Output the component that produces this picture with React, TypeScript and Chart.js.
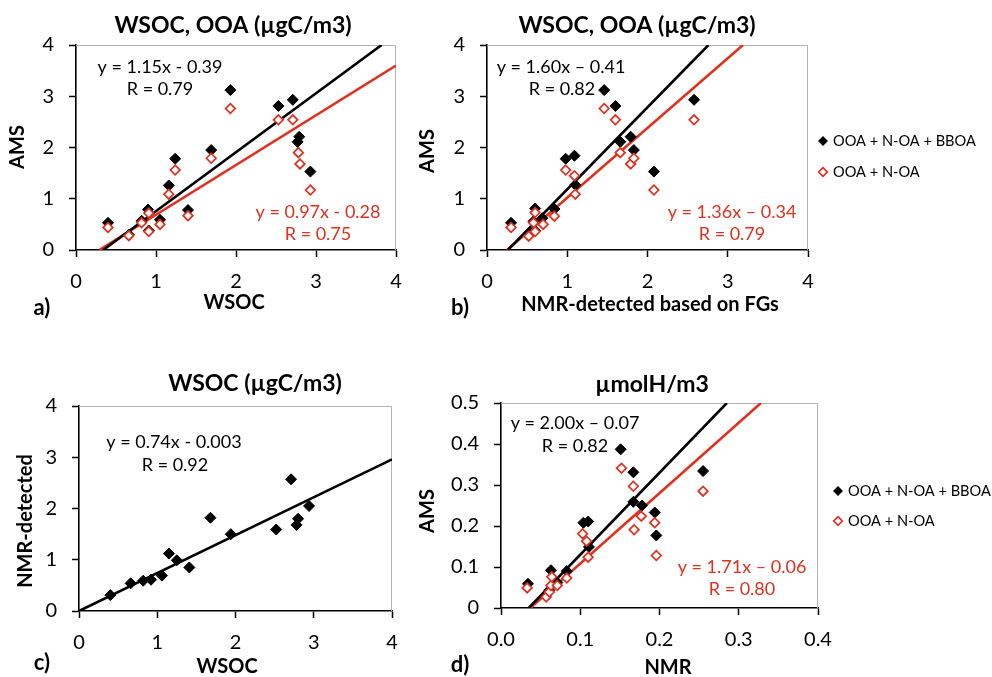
import React, { useEffect, useRef } from 'react';
import { Chart, registerables } from 'chart.js';

Chart.register(...registerables);

const PAGE_W = 992;
const PAGE_H = 677;
const FONT = "Lato, 'Open Sans', sans-serif";
const RED = '#e2301f';
const BLACK = '#000000';

// ---------- Tick labels ----------
const unitTicks = ['0', '1', '2', '3', '4'];
const dXTicks = ['0.0', '0.1', '0.2', '0.3', '0.4'];
const dYTicks = ['0', '0.1', '0.2', '0.3', '0.4', '0.5'];

// ---------- Panel a: WSOC (x) vs AMS (y) ----------
const aBlackX = [0.40, 0.66, 0.82, 0.90, 0.91, 1.05, 1.16, 1.24, 1.40, 1.69, 1.93, 2.53, 2.71, 2.77, 2.79, 2.93];
const aBlackY = [0.53, 0.30, 0.57, 0.79, 0.38, 0.59, 1.26, 1.78, 0.78, 1.95, 3.12, 2.81, 2.93, 2.11, 2.21, 1.53];
const aRedX = [0.40, 0.66, 0.82, 0.91, 0.91, 1.05, 1.16, 1.24, 1.40, 1.69, 1.93, 2.53, 2.71, 2.78, 2.80, 2.93];
const aRedY = [0.44, 0.28, 0.53, 0.72, 0.36, 0.50, 1.09, 1.56, 0.67, 1.79, 2.76, 2.54, 2.54, 1.90, 1.68, 1.17];
const aBlackFitX = [0.34, 3.82];
const aBlackFitY = [0, 4];
const aRedFitX = [0.29, 4.0];
const aRedFitY = [0, 3.60];

// ---------- Panel b: NMR-detected based on FGs (x) vs AMS (y) ----------
const bBlackX = [0.30, 0.52, 0.58, 0.60, 0.60, 0.69, 0.84, 0.98, 1.09, 1.10, 1.46, 1.60, 1.66, 1.79, 1.83, 2.08, 2.58];
const bBlackY = [0.53, 0.30, 0.56, 0.81, 0.38, 0.62, 0.80, 1.78, 1.84, 1.27, 3.12, 2.81, 2.11, 2.21, 1.95, 1.53, 2.93];
const bRedX = [0.30, 0.52, 0.58, 0.60, 0.60, 0.70, 0.84, 0.98, 1.09, 1.10, 1.46, 1.60, 1.66, 1.79, 1.83, 2.08, 2.58];
const bRedY = [0.44, 0.27, 0.53, 0.73, 0.36, 0.50, 0.66, 1.56, 1.45, 1.09, 2.76, 2.54, 1.90, 1.68, 1.79, 1.17, 2.54];
const bBlackFitX = [0.26, 2.76];
const bBlackFitY = [0, 4];
const bRedFitX = [0.25, 3.19];
const bRedFitY = [0, 4];

// ---------- Panel c: WSOC (x) vs NMR-detected (y) ----------
const cX = [0.40, 0.66, 0.82, 0.92, 1.06, 1.15, 1.25, 1.41, 1.68, 1.94, 2.52, 2.71, 2.78, 2.80, 2.94];
const cY = [0.31, 0.54, 0.59, 0.61, 0.69, 1.12, 0.99, 0.85, 1.82, 1.50, 1.59, 2.57, 1.68, 1.80, 2.05];
const cFitX = [0, 4];
const cFitY = [0, 2.96];

// ---------- Panel d: NMR (x) vs AMS (y), µmolH/m3 ----------
const dBlackX = [0.034, 0.057, 0.061, 0.063, 0.071, 0.083, 0.104, 0.110, 0.111, 0.151, 0.167, 0.167, 0.178, 0.194, 0.196, 0.255];
const dBlackY = [0.059, 0.031, 0.043, 0.092, 0.062, 0.090, 0.208, 0.211, 0.149, 0.387, 0.331, 0.259, 0.250, 0.233, 0.177, 0.334];
const dRedX = [0.033, 0.057, 0.061, 0.063, 0.064, 0.071, 0.083, 0.103, 0.108, 0.110, 0.152, 0.167, 0.168, 0.177, 0.194, 0.196, 0.255];
const dRedY = [0.049, 0.027, 0.039, 0.055, 0.076, 0.055, 0.073, 0.181, 0.163, 0.124, 0.341, 0.297, 0.191, 0.224, 0.208, 0.128, 0.285];
const dBlackFitX = [0.035, 0.285];
const dBlackFitY = [0, 0.5];
const dRedFitX = [0.037, 0.328];
const dRedFitY = [0, 0.5];

const seriesBlack = 'OOA + N-OA + BBOA';
const seriesRed = 'OOA + N-OA';

// ---------- helpers ----------
type TextItem = { text: string; x: number; y: number; size: number; bold?: boolean; color?: string; rotate?: boolean; align?: CanvasTextAlign };
type LegendItem = { text: string; x: number; y: number; color: string; filled: boolean };
type Spec = {
  area: { l: number; t: number; r: number; b: number };
  x: { min: number; max: number; step: number; labels: string[] };
  y: { min: number; max: number; step: number; labels: string[] };
  datasets: any[];
  texts: TextItem[];
  legend: LegendItem[];
};

const Y_BOX = 74;
const X_BOX = 60;

const pts = (xs: number[], ys: number[]) => xs.map((x, i) => ({ x, y: ys[i] }));

const blackPoints = (xs: number[], ys: number[], label: string) => ({
  label,
  data: pts(xs, ys),
  pointStyle: 'rectRot',
  pointRadius: 5.5,
  backgroundColor: BLACK,
  borderColor: BLACK,
  borderWidth: 1,
  showLine: false,
  order: 2,
});
const redPoints = (xs: number[], ys: number[], label: string) => ({
  label,
  data: pts(xs, ys),
  pointStyle: 'rectRot',
  pointRadius: 4.8,
  backgroundColor: '#ffffff',
  borderColor: RED,
  borderWidth: 1.7,
  showLine: false,
  order: 1,
});
const fitLine = (xs: number[], ys: number[], color: string, label: string) => ({
  label,
  data: pts(xs, ys),
  showLine: true,
  pointRadius: 0,
  borderColor: color,
  borderWidth: 2.6,
  fill: false,
  order: 5,
});

function scaleOpts(axis: 'x' | 'y', s: { min: number; max: number; step: number; labels: string[] }) {
  return {
    type: 'linear',
    min: s.min,
    max: s.max,
    ticks: {
      stepSize: s.step,
      autoSkip: false,
      maxRotation: 0,
      padding: axis === 'x' ? 13 : 15,
      color: '#000',
      font: { family: FONT, size: 20 },
      callback: (_v: any, i: number) => s.labels[i],
    },
    grid: {
      display: true,
      drawOnChartArea: false,
      drawTicks: true,
      tickLength: 7,
      tickColor: '#000',
      tickWidth: 1.5,
    },
    border: { display: true, color: '#000', width: 1.6 },
    afterFit: (sc: any) => {
      if (axis === 'x') sc.height = X_BOX;
      else sc.width = Y_BOX;
    },
  };
}

function diamond(ctx: CanvasRenderingContext2D, x: number, y: number, r: number) {
  ctx.beginPath();
  ctx.moveTo(x, y - r);
  ctx.lineTo(x + r, y);
  ctx.lineTo(x, y + r);
  ctx.lineTo(x - r, y);
  ctx.closePath();
}

function buildConfig(spec: Spec): any {
  const overlay = {
    id: 'panelOverlay',
    beforeDatasetsDraw(chart: any) {
      const { ctx, chartArea: a } = chart;
      ctx.save();
      ctx.strokeStyle = '#b3b3b3';
      ctx.lineWidth = 1;
      ctx.beginPath();
      ctx.moveTo(a.left, a.top + 0.5);
      ctx.lineTo(a.right - 0.5, a.top + 0.5);
      ctx.lineTo(a.right - 0.5, a.bottom);
      ctx.stroke();
      ctx.restore();
    },
    afterDraw(chart: any) {
      const ctx: CanvasRenderingContext2D = chart.ctx;
      ctx.save();
      for (const t of spec.texts) {
        ctx.font = `${t.bold ? 'bold ' : ''}${t.size}px ${FONT}`;
        ctx.fillStyle = t.color || BLACK;
        ctx.textAlign = t.align || 'center';
        ctx.textBaseline = 'middle';
        if (t.rotate) {
          ctx.save();
          ctx.translate(t.x, t.y);
          ctx.rotate(-Math.PI / 2);
          ctx.fillText(t.text, 0, 0);
          ctx.restore();
        } else {
          ctx.fillText(t.text, t.x, t.y);
        }
      }
      for (const l of spec.legend) {
        diamond(ctx, l.x, l.y, l.filled ? 5 : 4.3);
        if (l.filled) {
          ctx.fillStyle = l.color;
          ctx.fill();
        } else {
          ctx.fillStyle = '#fff';
          ctx.fill();
          ctx.strokeStyle = l.color;
          ctx.lineWidth = 1.7;
          ctx.stroke();
        }
        ctx.font = `14.6px ${FONT}`;
        ctx.fillStyle = BLACK;
        ctx.textAlign = 'left';
        ctx.textBaseline = 'middle';
        ctx.fillText(l.text, l.x + 10, l.y);
      }
      ctx.restore();
    },
  };

  const { l, t, r, b } = spec.area;
  return {
    type: 'scatter',
    data: { datasets: spec.datasets },
    options: {
      responsive: false,
      animation: false,
      events: [],
      devicePixelRatio: 1,
      layout: {
        padding: {
          left: l - Y_BOX,
          top: t,
          right: PAGE_W - r,
          bottom: PAGE_H - b - X_BOX,
        },
      },
      scales: {
        x: scaleOpts('x', spec.x),
        y: scaleOpts('y', spec.y),
      },
      plugins: {
        legend: { display: false },
        tooltip: { enabled: false },
        title: { display: false },
      },
    },
    plugins: [overlay],
  };
}

const unitAxis = { min: 0, max: 4, step: 1, labels: unitTicks };

const specs: Spec[] = [
  {
    area: { l: 76, t: 45, r: 396, b: 250 },
    x: unitAxis,
    y: unitAxis,
    datasets: [
      redPoints(aRedX, aRedY, seriesRed),
      blackPoints(aBlackX, aBlackY, seriesBlack),
      fitLine(aBlackFitX, aBlackFitY, BLACK, 'fit black'),
      fitLine(aRedFitX, aRedFitY, RED, 'fit red'),
    ],
    texts: [
      { text: 'WSOC, OOA (µgC/m3)', x: 233, y: 26, size: 23, bold: true },
      { text: 'WSOC', x: 234, y: 303, size: 20, bold: true },
      { text: 'AMS', x: 18, y: 147, size: 20, bold: true, rotate: true },
      { text: 'a)', x: 42, y: 308, size: 22, bold: true },
      { text: 'y = 1.15x - 0.39', x: 160, y: 67, size: 18 },
      { text: 'R = 0.79', x: 160, y: 89, size: 18 },
      { text: 'y = 0.97x - 0.28', x: 318, y: 212, size: 18, color: RED },
      { text: 'R = 0.75', x: 318, y: 234, size: 18, color: RED },
    ],
    legend: [],
  },
  {
    area: { l: 487, t: 45, r: 808, b: 250 },
    x: unitAxis,
    y: unitAxis,
    datasets: [
      redPoints(bRedX, bRedY, seriesRed),
      blackPoints(bBlackX, bBlackY, seriesBlack),
      fitLine(bBlackFitX, bBlackFitY, BLACK, 'fit black'),
      fitLine(bRedFitX, bRedFitY, RED, 'fit red'),
    ],
    texts: [
      { text: 'WSOC, OOA (µgC/m3)', x: 637, y: 26, size: 23, bold: true },
      { text: 'NMR-detected based on FGs', x: 650, y: 305, size: 20, bold: true },
      { text: 'AMS', x: 428, y: 151, size: 20, bold: true, rotate: true },
      { text: 'b)', x: 460, y: 308, size: 22, bold: true },
      { text: 'y = 1.60x – 0.41', x: 561, y: 67, size: 18 },
      { text: 'R = 0.82', x: 562, y: 89, size: 18 },
      { text: 'y = 1.36x – 0.34', x: 732, y: 212, size: 18, color: RED },
      { text: 'R = 0.79', x: 732, y: 234, size: 18, color: RED },
    ],
    legend: [
      { text: seriesBlack, x: 823, y: 141, color: BLACK, filled: true },
      { text: seriesRed, x: 823, y: 172, color: RED, filled: false },
    ],
  },
  {
    area: { l: 79, t: 406, r: 392, b: 611 },
    x: unitAxis,
    y: unitAxis,
    datasets: [
      blackPoints(cX, cY, 'NMR-detected'),
      fitLine(cFitX, cFitY, BLACK, 'fit'),
    ],
    texts: [
      { text: 'WSOC (µgC/m3)', x: 255, y: 384, size: 23, bold: true },
      { text: 'WSOC', x: 227, y: 667, size: 20, bold: true },
      { text: 'NMR-detected', x: 26, y: 521, size: 20, bold: true, rotate: true },
      { text: 'c)', x: 42, y: 663, size: 22, bold: true },
      { text: 'y = 0.74x - 0.003', x: 174, y: 442, size: 18 },
      { text: 'R = 0.92', x: 175, y: 465, size: 18 },
    ],
    legend: [],
  },
  {
    area: { l: 501, t: 403, r: 818, b: 608 },
    x: { min: 0, max: 0.4, step: 0.1, labels: dXTicks },
    y: { min: 0, max: 0.5, step: 0.1, labels: dYTicks },
    datasets: [
      redPoints(dRedX, dRedY, seriesRed),
      blackPoints(dBlackX, dBlackY, seriesBlack),
      fitLine(dBlackFitX, dBlackFitY, BLACK, 'fit black'),
      fitLine(dRedFitX, dRedFitY, RED, 'fit red'),
    ],
    texts: [
      { text: 'µmolH/m3', x: 652, y: 385, size: 23, bold: true },
      { text: 'NMR', x: 668, y: 668, size: 20, bold: true },
      { text: 'AMS', x: 428, y: 511, size: 20, bold: true, rotate: true },
      { text: 'd)', x: 460, y: 665, size: 22, bold: true },
      { text: 'y = 2.00x – 0.07', x: 575, y: 423, size: 18 },
      { text: 'R = 0.82', x: 575, y: 446, size: 18 },
      { text: 'y = 1.71x – 0.06', x: 742, y: 567, size: 18, color: RED },
      { text: 'R = 0.80', x: 742, y: 589, size: 18, color: RED },
    ],
    legend: [
      { text: seriesBlack, x: 838, y: 491, color: BLACK, filled: true },
      { text: seriesRed, x: 838, y: 521, color: RED, filled: false },
    ],
  },
];

function Panel({ spec }: { spec: Spec }) {
  const ref = useRef<HTMLCanvasElement | null>(null);
  useEffect(() => {
    if (!ref.current) return;
    const chart = new Chart(ref.current, buildConfig(spec));
    return () => chart.destroy();
  }, [spec]);
  return (
    <canvas
      ref={ref}
      width={PAGE_W}
      height={PAGE_H}
      style={{ position: 'absolute', left: 0, top: 0, width: PAGE_W, height: PAGE_H }}
    />
  );
}

export default function App() {
  return (
    <div
      style={{
        position: 'absolute',
        left: 0,
        top: 0,
        width: PAGE_W,
        height: PAGE_H,
        background: '#ffffff',
        overflow: 'hidden',
      }}
    >
      {specs.map((s, i) => (
        <Panel key={i} spec={s} />
      ))}
    </div>
  );
}
